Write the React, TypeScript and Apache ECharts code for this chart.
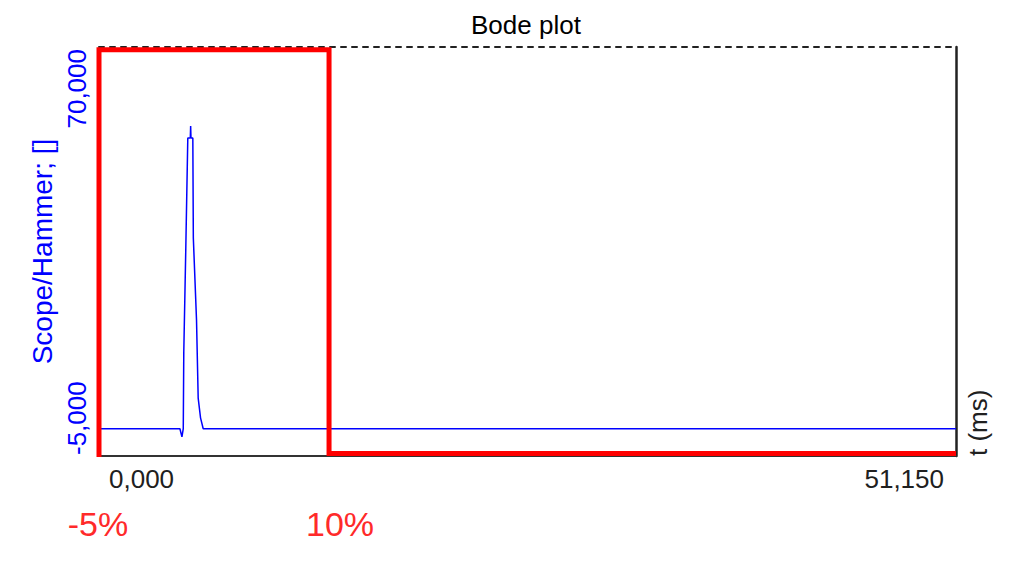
import React, { useEffect, useRef } from "react";
import * as echarts from "echarts";

// Hammer signal, time in ms
const timeMs = [0, 4.83, 4.95, 5.03, 5.06, 5.18, 5.3, 5.45, 5.47, 5.49, 5.6, 5.63, 5.82, 5.92, 6.06, 6.22, 51.15];
const hammer = [0, 0, -1500, 0, 14000, 33000, 53300, 53300, 55500, 53300, 53300, 35000, 20000, 5600, 2000, 0, 0];

// Red window outline (time ms, value)
const windowT = [0, 0, 13.73, 13.73, 51.15];
const windowV = [-5200, 69500, 69500, -4550, -4550];

// Tick values
const xTickValues = [0, 51.15];
const yTickValues = [-5000, 70000];

// Window annotations
const windowLabels = ["-5%", "10%"];

const FONT = '"Liberation Sans", Arial, Helvetica, sans-serif';

export default function App() {
  const ref = useRef<HTMLDivElement>(null);

  useEffect(() => {
    const chart = echarts.init(ref.current as HTMLDivElement, null, { renderer: "svg" });
    chart.setOption({
      animation: false,
      backgroundColor: "#ffffff",
      title: {
        text: "Bode plot",
        left: 471,
        top: 12,
        padding: 0,
        textStyle: { fontFamily: FONT, fontSize: 26, fontWeight: "normal", color: "#000000" },
      },
      grid: { left: 99, right: 68, top: 47, bottom: 115, outerBoundsMode: "none" },
      xAxis: [
        {
          type: "value",
          min: 0,
          max: 51.15,
          position: "bottom",
          name: "t (ms)",
          nameLocation: "end",
          nameRotate: 90,
          nameGap: 9,
          nameTextStyle: { fontFamily: FONT, fontSize: 26, color: "#202020", align: "left", verticalAlign: "top" },
          axisLine: { show: true, onZero: false, lineStyle: { color: "#333333", width: 2 } },
          axisTick: { show: false },
          splitLine: { show: false },
          axisLabel: {
            customValues: xTickValues,
            formatter: (v: number) => v.toFixed(3).replace(".", ","),
            alignMinLabel: "left",
            alignMaxLabel: "right",
            margin: 10,
            padding: [0, 12, 0, 10],
            fontFamily: FONT,
            fontSize: 26,
            color: "#202020",
          },
        },
        {
          type: "value",
          min: 0,
          max: 51.15,
          position: "top",
          axisLine: { show: true, onZero: false, lineStyle: { color: "#222222", width: 2, type: [5, 6] } },
          axisTick: { show: false },
          axisLabel: { show: false },
          splitLine: { show: false },
        },
      ],
      yAxis: [
        {
          type: "value",
          min: -5000,
          max: 70000,
          position: "left",
          name: "Scope/Hammer; []",
          nameLocation: "middle",
          nameGap: 37,
          nameTextStyle: { fontFamily: FONT, fontSize: 28, color: "#0000ff" },
          axisLine: { show: false, onZero: false },
          axisTick: { show: false },
          splitLine: { show: false },
          axisLabel: {
            customValues: yTickValues,
            formatter: (v: number) => v.toLocaleString("en-US"),
            rotate: 90,
            alignMinLabel: "left",
            alignMaxLabel: "right",
            margin: 9,
            padding: [0, 2, 0, 1],
            fontFamily: FONT,
            fontSize: 26,
            color: "#0000ff",
          },
        },
        {
          type: "value",
          min: -5000,
          max: 70000,
          position: "right",
          axisLine: { show: true, onZero: false, lineStyle: { color: "#222222", width: 2.5 } },
          axisTick: { show: false },
          axisLabel: { show: false },
          splitLine: { show: false },
        },
      ],
      series: [
        {
          name: "Scope/Hammer",
          type: "line",
          xAxisIndex: 0,
          yAxisIndex: 0,
          data: timeMs.map((t, i) => [t, hammer[i]]),
          symbol: "none",
          lineStyle: { color: "#0000ff", width: 1.5 },
          itemStyle: { color: "#0000ff" },
          z: 3,
        },
        {
          name: "Window",
          type: "line",
          xAxisIndex: 0,
          yAxisIndex: 0,
          data: windowT.map((t, i) => [t, windowV[i]]),
          symbol: "none",
          clip: false,
          silent: true,
          lineStyle: { color: "#ff0000", width: 5, join: "miter" },
          itemStyle: { color: "#ff0000" },
          z: 5,
        },
      ],
      graphic: [
        {
          type: "text",
          x: 98,
          y: 524,
          style: { text: windowLabels[0], fill: "#ff2a2a", font: `34px ${FONT}`, textAlign: "center", textVerticalAlign: "middle" },
        },
        {
          type: "text",
          x: 340,
          y: 524,
          style: { text: windowLabels[1], fill: "#ff2a2a", font: `34px ${FONT}`, textAlign: "center", textVerticalAlign: "middle" },
        },
      ],
    });
    return () => chart.dispose();
  }, []);

  return (
    <div
      ref={ref}
      style={{ position: "fixed", left: 0, top: 0, width: 1024, height: 571, background: "#fff" }}
    />
  );
}
